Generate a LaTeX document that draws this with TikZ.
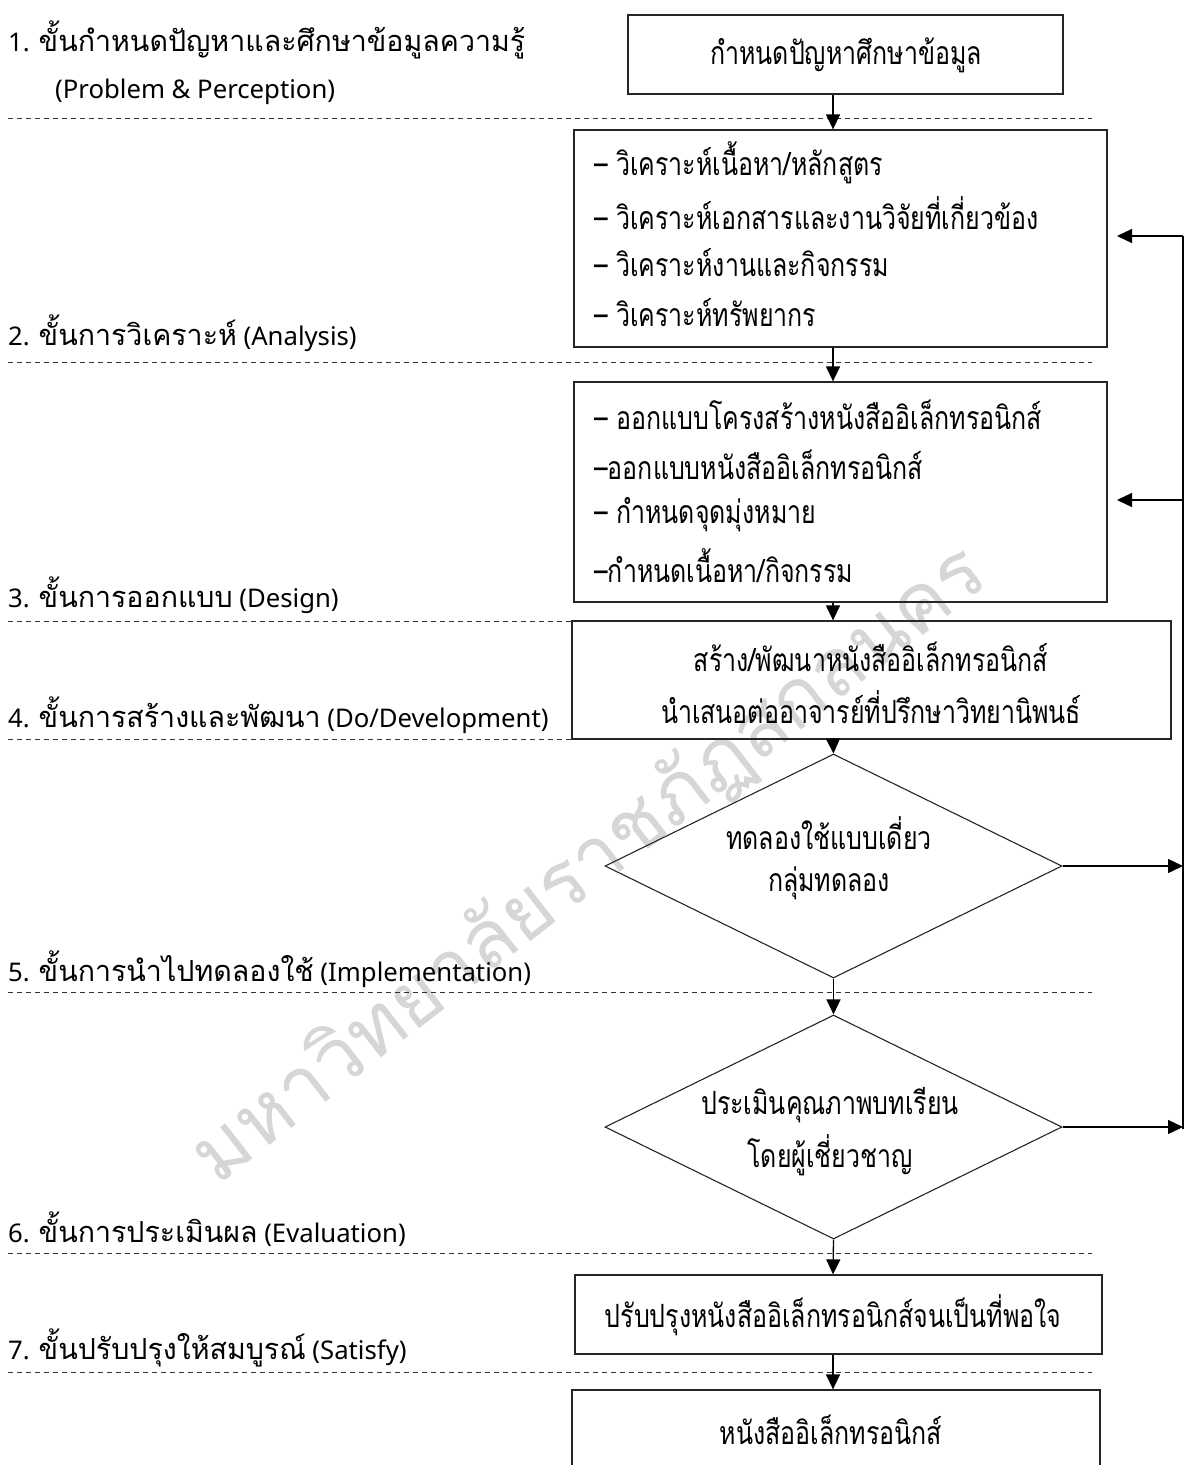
\documentclass[tikz,border=0pt]{standalone}
\usepackage{fontspec}
\setmainfont{Noto Sans}
\newfontfamily\thaibox[Script=Thai,FakeStretch=0.78]{Loma}
\newfontfamily\thailbl[Script=Thai,FakeStretch=0.985]{Loma}
\newfontfamily\thaiwm[Script=Thai]{Loma}
\usetikzlibrary{arrows.meta,shapes.geometric}
\begin{document}
\begin{tikzpicture}[x=1pt,y=-1pt,
  box/.style={draw=black!85, line width=1.3pt, rectangle, inner sep=0pt},
  dmd/.style={draw=black!85, line width=1.1pt, diamond, inner sep=0pt},
  btxt/.style={font=\thaibox\fontsize{32}{36}\selectfont, inner sep=0pt},
  lbl/.style={font=\fontsize{25.7}{30}\selectfont, inner sep=0pt, anchor=west},
  dsh/.style={draw=black!80, line width=0.9pt, dash pattern=on 5pt off 4pt},
  arr/.style={-{Triangle[width=14pt,length=15pt]}, line width=1.3pt, black},
  ln/.style={line width=1.3pt, black},
  wm/.style={font=\thaiwm\fontsize{80}{90}\selectfont, text=black!16, inner sep=0pt}
]
\newcommand{\TL}[1]{{\thailbl\fontsize{29}{32}\selectfont #1}}
\useasboundingbox (0,0) rectangle (1190,1465);
\clip (0,0) rectangle (1190,1465);
\fill[white] (0,0) rectangle (1190,1465);

% watermark
\node[wm, rotate=38] (wmk) at (590,865) {มหาวิทยาลัยราชภัฏสกลนคร};

% dashed separators
\draw[dsh] (8,118) -- (1092,118);
\draw[dsh] (8,362) -- (1092,362);
\draw[dsh] (8,621) -- (1092,621);
\draw[dsh] (8,739) -- (1092,739);
\draw[dsh] (8,992) -- (1092,992);
\draw[dsh] (8,1253) -- (1092,1253);
\draw[dsh] (8,1372) -- (1092,1372);

% left labels
\node[lbl] (l1) at (8,40) {1. \TL{ขั้นกำหนดปัญหาและศึกษาข้อมูลความรู้}};
\node[lbl] (l1b) at (55,92) {(Problem \& Perception)};
\node[lbl] (l2) at (8,333) {2. \TL{ขั้นการวิเคราะห์} (Analysis)};
\node[lbl] (l3) at (8,595) {3. \TL{ขั้นการออกแบบ} (Design)};
\node[lbl] (l4) at (8,715) {4. \TL{ขั้นการสร้างและพัฒนา} (Do/Development)};
\node[lbl] (l5) at (8,969) {5. \TL{ขั้นการนำไปทดลองใช้} (Implementation)};
\node[lbl] (l6) at (8,1229) {6. \TL{ขั้นการประเมินผล} (Evaluation)};
\node[lbl] (l7) at (8,1348) {7. \TL{ขั้นปรับปรุงให้สมบูรณ์} (Satisfy)};

% boxes
\node[box, minimum width=435pt, minimum height=79pt] (b1) at (845.5,54.5) {};
\node[btxt] (t1) at (846,55) {กำหนดปัญหาศึกษาข้อมูล};

\node[box, minimum width=533pt, minimum height=217pt] (b2) at (840.5,238.5) {};
\node[btxt, anchor=west] (t2a) at (594,163) {– วิเคราะห์เนื้อหา/หลักสูตร};
\node[btxt, anchor=west] (t2b) at (594,213) {– วิเคราะห์เอกสารและงานวิจัยที่เกี่ยวข้อง};
\node[btxt, anchor=west] (t2c) at (594,263) {– วิเคราะห์งานและกิจกรรม};
\node[btxt, anchor=west] (t2d) at (594,313) {– วิเคราะห์ทรัพยากร};

\node[box, minimum width=533pt, minimum height=220pt] (b3) at (840.5,492) {};
\node[btxt, anchor=west] (t3a) at (594,415) {– ออกแบบโครงสร้างหนังสืออิเล็กทรอนิกส์};
\node[btxt, anchor=west] (t3b) at (594,465) {–ออกแบบหนังสืออิเล็กทรอนิกส์};
\node[btxt, anchor=west] (t3c) at (594,515) {– กำหนดจุดมุ่งหมาย};
\node[btxt, anchor=west] (t3d) at (594,566) {–กำหนดเนื้อหา/กิจกรรม};

\node[box, minimum width=599pt, minimum height=118pt] (b4) at (871.5,680) {};
\node[btxt] (t4a) at (871,657) {สร้าง/พัฒนาหนังสืออิเล็กทรอนิกส์};
\node[btxt] (t4b) at (871,707) {นำเสนอต่ออาจารย์ที่ปรึกษาวิทยานิพนธ์};

\node[dmd, minimum width=457pt, minimum height=224pt] (d1) at (833.5,866) {};
\node[btxt] (t5a) at (829,833) {ทดลองใช้แบบเดี่ยว};
\node[btxt] (t5b) at (829,883) {กลุ่มทดลอง};

\node[dmd, minimum width=457pt, minimum height=224pt] (d2) at (833.5,1127) {};
\node[btxt] (t6a) at (830,1105) {ประเมินคุณภาพบทเรียน};
\node[btxt] (t6b) at (830,1155) {โดยผู้เชี่ยวชาญ};

\node[box, minimum width=527pt, minimum height=79pt] (b6) at (838.5,1314.5) {};
\node[btxt] (t7) at (833,1315) {ปรับปรุงหนังสืออิเล็กทรอนิกส์จนเป็นที่พอใจ};

\node[box, minimum width=528pt, minimum height=120pt] (b7) at (836,1450) {};
\node[btxt] (t8) at (831,1430) {หนังสืออิเล็กทรอนิกส์};

% connectors
\coordinate (ax) at (833,0);
\coordinate (fb) at (1183,0);
\draw[arr] (b1.south -| ax) -- (b2.north -| ax);
\draw[arr] (b2.south -| ax) -- (b3.north -| ax);
\draw[arr] (b3.south -| ax) -- (b4.north -| ax);
\draw[arr] (b4.south -| ax) -- (d1.north);
\draw[arr] (d1.south) -- (d2.north);
\draw[arr] (d2.south) -- (b6.north -| ax);
\draw[arr] (b6.south -| ax) -- (b7.north -| ax);

\draw[arr] (d1.east) -- (d1.east -| fb);
\draw[arr] (d2.east) -- (d2.east -| fb);
\coordinate (fbtop) at (1183,236);
\coordinate (fbmid) at (1183,500);
\coordinate (fbbot) at (1183,1129);
\coordinate (in2) at (1117,236);
\coordinate (in3) at (1117,500);
\draw[ln] (fbbot) -- (fbtop);
\draw[arr] (fbtop) -- (in2);
\draw[arr] (fbmid) -- (in3);
\end{tikzpicture}
\end{document}
